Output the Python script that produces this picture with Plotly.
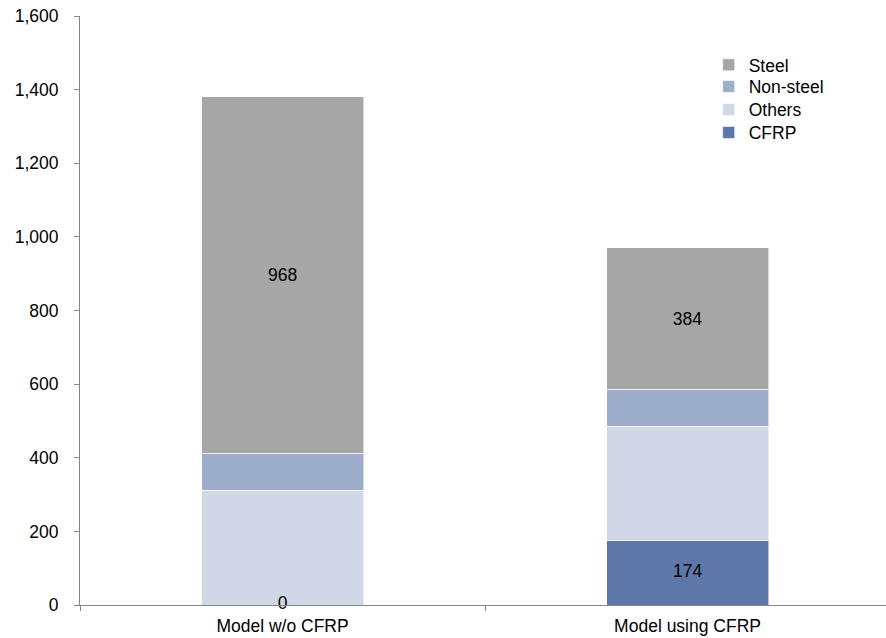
import plotly.graph_objects as go

# Material weight by vehicle model, stacked by material group
models = ["Model w/o CFRP", "Model using CFRP"]
cfrp = [0, 174]
others = [312, 312]
non_steel = [100, 100]
steel = [968, 384]

y_ticks = [0, 200, 400, 600, 800, 1000, 1200, 1400, 1600]

colors = {
    "CFRP": "#5E77A9",
    "Others": "#D0D8E7",
    "Non-steel": "#9DADCC",
    "Steel": "#A6A6A6",
}

font_family = "Liberation Sans, Arial, sans-serif"
font_size = 17.5
edge = dict(color="rgba(255,255,255,0.7)", width=0.8)

# one single-entry legend per series so the rows can be spaced tightly
legend_rows = {"Steel": ("legend", 0.917), "Non-steel": ("legend2", 0.880),
               "Others": ("legend3", 0.841), "CFRP": ("legend4", 0.802)}

fig = go.Figure()

fig.add_trace(go.Bar(
    name="CFRP", x=models, y=cfrp, marker=dict(color=colors["CFRP"], line=edge),
    width=0.4, legend=legend_rows["CFRP"][0],
))
fig.add_trace(go.Bar(
    name="Others", x=models, y=others, marker=dict(color=colors["Others"], line=edge),
    width=0.4, legend=legend_rows["Others"][0],
))
fig.add_trace(go.Bar(
    name="Non-steel", x=models, y=non_steel, marker=dict(color=colors["Non-steel"], line=edge),
    width=0.4, legend=legend_rows["Non-steel"][0],
))
fig.add_trace(go.Bar(
    name="Steel", x=models, y=steel, marker=dict(color=colors["Steel"], line=edge),
    width=0.4, legend=legend_rows["Steel"][0],
    text=[str(v) for v in steel], textposition="inside", insidetextanchor="middle",
    textfont=dict(color="black", size=font_size, family=font_family),
))

# CFRP value labels, centred in their segment (a zero segment sits on the axis)
fig.add_trace(go.Scatter(
    x=models, y=[v / 2 for v in cfrp], mode="text", text=[str(v) for v in cfrp],
    textposition="middle center",
    textfont=dict(color="black", size=font_size, family=font_family),
    showlegend=False, hoverinfo="skip", cliponaxis=False,
))

axis_color = "#868686"

legend_style = dict(x=0.78, xanchor="left", yanchor="middle",
                    font=dict(size=font_size), itemwidth=30,
                    bgcolor="rgba(0,0,0,0)")
legend_layout = {key: dict(legend_style, y=ypos) for key, ypos in legend_rows.values()}

fig.update_layout(
    barmode="stack",
    width=886, height=638,
    margin=dict(l=80, r=0, t=16, b=33),
    plot_bgcolor="white", paper_bgcolor="white",
    font=dict(family=font_family, size=font_size, color="black"),
    xaxis=dict(
        type="category", range=[-0.5, 1.49],
        showline=True, linecolor=axis_color, linewidth=1,
        ticks="outside", tickson="boundaries", ticklen=5, tickcolor=axis_color,
        ticklabelstandoff=5,
        showgrid=False, tickfont=dict(size=font_size),
    ),
    yaxis=dict(
        range=[0, 1600], tickvals=y_ticks, tickformat=",",
        showline=True, linecolor=axis_color, linewidth=1,
        ticks="outside", ticklen=5, tickcolor=axis_color, ticklabelstandoff=12,
        showgrid=False, zeroline=False, tickfont=dict(size=font_size),
    ),
    showlegend=True,
    **legend_layout,
)

fig.write_html("out.html")
